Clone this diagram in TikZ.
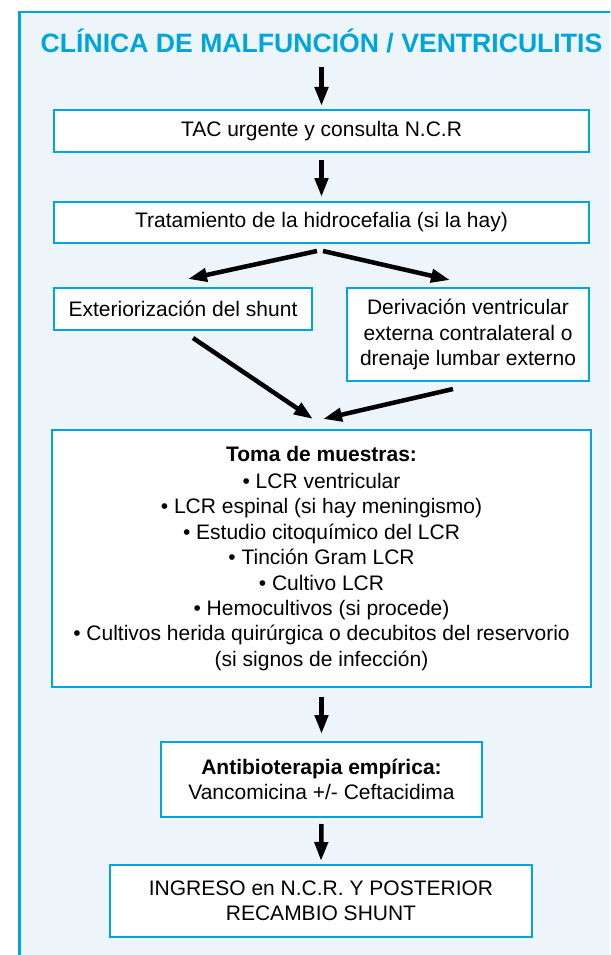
\documentclass[tikz,border=0pt]{standalone}
\usepackage{fontspec}
\setmainfont{Liberation Sans}
\usetikzlibrary{arrows.meta}
\definecolor{marco}{HTML}{00A5DD}
\definecolor{fondo}{HTML}{EEF5FA}
\tikzset{
  caja/.style={draw=marco,fill=white,line width=2.2pt,align=center,inner sep=0pt,
    font=\fontsize{21}{25.4}\selectfont},
  flecha/.style={line width=4.5pt,-{Triangle[width=13pt,length=19pt]}},
}
\begin{document}
\begin{tikzpicture}[x=1pt,y=-1pt]
  % page and frame
  \useasboundingbox (0,0) rectangle (610,955);
  \clip (0,0) rectangle (610,955);
  \fill[white] (0,0) rectangle (610,955);
  \draw[marco,fill=fondo,line width=2.3pt] (19.5,12.2) rectangle (640,990);
  % title
  \node[anchor=base,inner sep=0pt,text depth=0pt,marco,
    font=\fontsize{26.6}{30}\selectfont\bfseries] (titulo) at (321.5,53)
    {CLÍNICA DE MALFUNCIÓN / VENTRICULITIS};
  % boxes
  \node[caja,minimum width=534.8pt,minimum height=41.8pt] (tac) at (321.5,131)
    {TAC urgente y consulta N.C.R};
  \node[caja,minimum width=534.8pt,minimum height=40.8pt] (trat) at (321.5,222.5)
    {Tratamiento de la hidrocefalia (si la hay)};
  \node[caja,minimum width=257.8pt,minimum height=41.8pt] (exter) at (183,309)
    {Exteriorización del shunt};
  \node[caja,minimum width=241.8pt,minimum height=92.8pt] (deriv) at (468,334.5)
    {Derivación ventricular\\externa contralateral o\\drenaje lumbar externo};
  \node[caja,minimum width=538.8pt,minimum height=256.8pt] (toma) at (321.5,558.5)
    {\textbf{Toma de muestras:}\\[1.6pt]
     • LCR ventricular\\
     • LCR espinal (si hay meningismo)\\
     • Estudio citoquímico del LCR\\
     • Tinción Gram LCR\\
     • Cultivo LCR\\
     • Hemocultivos (si procede)\\
     • Cultivos herida quirúrgica o decubitos del reservorio\\
     (si signos de infección)};
  \node[caja,minimum width=320.8pt,minimum height=74.8pt] (antib) at (321.5,779.5)
    {\textbf{Antibioterapia empírica:}\\Vancomicina +/- Ceftacidima};
  \node[caja,minimum width=421.8pt,minimum height=71.8pt] (ingreso) at (321,901)
    {INGRESO en N.C.R. Y POSTERIOR\\RECAMBIO SHUNT};
  % arrows
  \draw[flecha] ([shift={(0,14)}]titulo.south) -- ([shift={(0,-3)}]tac.north);
  \draw[flecha] ([shift={(0,7)}]tac.south) -- ([shift={(0,-4)}]trat.north);
  \draw[flecha] ([shift={(-4.5,7)}]trat.south) -- ([shift={(5,-8)}]exter.north);
  \draw[flecha] ([shift={(1.5,7)}]trat.south) -- ([shift={(-18,-7)}]deriv.north);
  \draw[flecha] ([shift={(10,7)}]exter.south) -- ([shift={(-8.5,-10)}]toma.north);
  \draw[flecha] ([shift={(-15,7)}]deriv.south) -- ([shift={(1.5,-10)}]toma.north);
  \draw[flecha] ([shift={(0,9)}]toma.south) -- ([shift={(0,-7)}]antib.north);
  \draw[flecha] ([shift={(0,6)}]antib.south) -- ([shift={(0,-3)}]ingreso.north);
\end{tikzpicture}
\end{document}
